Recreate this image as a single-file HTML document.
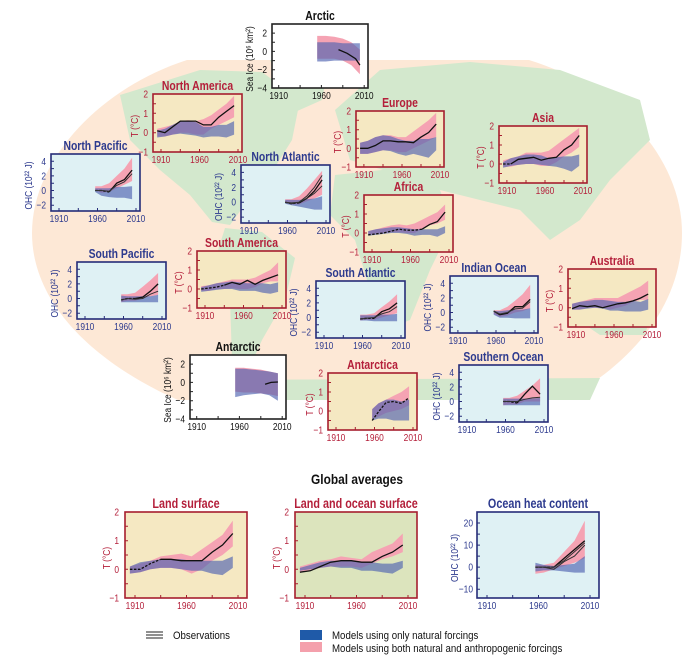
<!DOCTYPE html>
<html><head><meta charset="utf-8">
<style>
html,body{margin:0;padding:0;background:#fff;}
svg text{font-family:"Liberation Sans Narrow","Liberation Sans",sans-serif;}
</style></head>
<body>
<svg id="fig" xmlns="http://www.w3.org/2000/svg" width="688" height="662" viewBox="0 0 688 662">
  <g>
    <path d="M187,60 L529,60 C620,88 682,160 682,233 C682,310 625,368 564,400 L178,400 C105,368 32,310 32,233 C32,160 100,88 187,60 Z" fill="#fde8d6"/>
    <g fill="#d3e8cd">
      <path d="M120,95 L200,70 L262,72 L300,100 L292,140 L270,175 L248,200 L230,225 L212,222 L190,195 L160,170 L130,140 Z"/>
      <path d="M270,60 L330,58 L322,100 L295,112 Z"/>
      <path d="M225,228 L262,232 L295,258 L285,300 L262,340 L244,380 L232,360 L230,300 L215,260 Z"/>
      <path d="M335,110 L380,70 L470,62 L560,70 L640,100 L650,140 L610,180 L580,220 L550,240 L520,210 L480,200 L440,190 L400,175 L350,160 Z"/>
      <path d="M335,175 L400,168 L440,190 L452,225 L430,270 L410,320 L385,330 L370,290 L355,240 L330,215 Z"/>
      <path d="M575,285 L625,278 L655,300 L645,335 L600,335 L575,318 Z"/>
      <path d="M200,380 L600,378 L590,400 L210,400 Z"/>
    </g>
  </g>
  <g id="panels"></g>
  <text transform="translate(357,484) scale(0.85,1)" text-anchor="middle" font-size="14" font-weight="bold" fill="#111">Global averages</text>
  <g>
    <g>
      <line x1="146" y1="632" x2="163" y2="632" stroke="#222" stroke-width="1"/>
      <line x1="146" y1="635" x2="163" y2="635" stroke="#222" stroke-width="1"/>
      <line x1="146" y1="638" x2="163" y2="638" stroke="#222" stroke-width="1"/>
      <text transform="translate(173,639) scale(0.88,1)" font-size="11" fill="#111">Observations</text>
    </g>
    <g>
      <rect x="300" y="630" width="22" height="10" fill="#1f5aa8"/>
      <text transform="translate(332,639) scale(0.88,1)" font-size="11" fill="#111">Models using only natural forcings</text>
    </g>
    <g>
      <rect x="300" y="642" width="22" height="10" fill="#f4a0ac"/>
      <text transform="translate(332,652) scale(0.88,1)" font-size="11" fill="#111">Models using both natural and anthropogenic forcings</text>
    </g>
  </g>
</svg>
<script>
// ---------- data ----------
const decadeYears = [1905,1915,1925,1935,1945,1955,1965,1975,1985,1995,2005];
const ohcYears = [1957,1965,1975,1985,1995,2005];
const iceYears = [1955,1965,1975,1985,1995,2005];
const xTickLabels = ['1910','1960','2010'];
const tTicks = [2,1,0,-1];
const ohcTicks = [4,2,0,-2];
const iceTicks = [2,0,-2,-4];
const gOhcTicks = [20,10,0,-10];

// North America
const naObs = [0.1,0.0,0.3,0.6,0.6,0.6,0.4,0.4,0.8,1.1,1.4];
const naPinkHi = [0.2,0.3,0.4,0.6,0.65,0.6,0.7,0.9,1.2,1.5,1.9];
const naPinkLo = [-0.2,-0.2,-0.1,0.0,0.0,-0.1,-0.1,0.2,0.4,0.6,0.8];
const naBlueHi = [0.1,0.2,0.4,0.6,0.6,0.55,0.3,0.3,0.4,0.4,0.6];
const naBlueLo = [-0.25,-0.2,-0.1,-0.05,-0.1,-0.15,-0.25,-0.2,-0.2,-0.25,-0.1];
// Europe
const euObs = [0,0,0.15,0.4,0.4,0.35,0.35,0.3,0.6,0.85,1.3];
const euPinkHi = [0.3,0.4,0.6,0.7,0.7,0.6,0.6,0.9,1.2,1.5,1.9];
const euPinkLo = [-0.3,-0.3,-0.2,-0.1,-0.1,-0.2,-0.2,0,0.2,0.4,0.6];
const euBlueHi = [0.3,0.4,0.6,0.7,0.65,0.5,0.4,0.4,0.5,0.5,0.6];
const euBlueLo = [-0.3,-0.3,-0.2,-0.1,-0.15,-0.3,-0.4,-0.3,-0.4,-0.5,-0.1];
// Asia
const asObs = [0,0,0.25,0.3,0.35,0.2,0.3,0.35,0.75,1.0,1.5];
const asPinkHi = [0.2,0.3,0.4,0.6,0.6,0.6,0.7,1.0,1.3,1.6,1.9];
const asPinkLo = [-0.15,-0.15,-0.05,0,0,-0.1,-0.1,0.1,0.4,0.6,0.9];
const asBlueHi = [0.1,0.3,0.4,0.5,0.5,0.45,0.3,0.35,0.4,0.4,0.5];
const asBlueLo = [-0.2,-0.1,-0.05,0,0,-0.05,-0.1,-0.15,-0.25,-0.4,-0.1];
// Africa
const afObs = [-0.1,-0.05,0,0.1,0.2,0.15,0.15,0.2,0.45,0.6,1.1];
const afPinkHi = [0.1,0.2,0.3,0.4,0.45,0.4,0.5,0.7,0.9,1.1,1.5];
const afPinkLo = [-0.1,-0.05,0,0.05,0.05,0,0,0.2,0.4,0.5,0.7];
const afBlueHi = [0.1,0.2,0.25,0.3,0.3,0.25,0.2,0.2,0.2,0.2,0.35];
const afBlueLo = [-0.15,-0.1,-0.05,0,0,-0.05,-0.15,-0.1,-0.1,-0.2,0];
// South America
const samObs = [0,0.05,0.1,0.2,0.35,0.25,0.45,0.25,0.45,0.6,0.75];
const samPinkHi = [0.15,0.2,0.3,0.4,0.5,0.5,0.5,0.6,0.8,1.0,1.4];
const samPinkLo = [-0.1,-0.1,0,0,0.05,0,0,0.1,0.3,0.4,0.4];
const samBlueHi = [0.1,0.2,0.3,0.35,0.4,0.35,0.3,0.3,0.3,0.25,0.35];
const samBlueLo = [-0.15,-0.1,-0.05,0,0,-0.1,-0.1,-0.1,-0.2,-0.25,-0.15];
// Australia
const auObs = [-0.05,0.1,0.05,0.1,0,0.1,0.2,0.25,0.35,0.5,0.7];
const auPinkHi = [0.2,0.3,0.4,0.5,0.5,0.5,0.5,0.7,0.9,1.1,1.4];
const auPinkLo = [-0.1,-0.1,0,0,0,-0.1,0,0.1,0.3,0.4,0.4];
const auBlueHi = [0.2,0.3,0.35,0.4,0.4,0.35,0.3,0.3,0.35,0.3,0.45];
const auBlueLo = [-0.1,-0.1,-0.05,0,-0.05,-0.15,-0.15,-0.2,-0.2,-0.2,-0.1];
// Antarctica (temperature)
const antTObs = [-0.5,-0.05,0.45,0.5,0.4,0.7];
const antTPinkHi = [0.1,0.4,0.6,0.8,1.0,1.3];
const antTPinkLo = [-0.4,-0.3,-0.1,0,0.1,0.3];
const antTBlueHi = [0.1,0.4,0.6,0.6,0.5,0.6];
const antTBlueLo = [-0.5,-0.4,-0.4,-0.5,-0.5,-0.5];
// North Pacific OHC
const npObs = [0,0,-0.2,1.0,1.5,2.8];
const npObs2 = [0,0,-0.1,0.7,1.2,2.3];
const npPinkHi = [0.6,0.6,1.0,2.0,3.0,4.5];
const npPinkLo = [0,-0.3,-0.2,0.3,0.8,1.3];
const npBlueHi = [0.3,0.3,0.3,0.5,0.5,0.6];
const npBlueLo = [-0.2,-0.7,-0.9,-1.0,-1.0,-1.2];
// North Atlantic OHC
const natObs = [0,-0.2,-0.1,0.5,1.5,3.0];
const natObs2 = [0,-0.1,0,0.8,2.0,3.6];
const natObs3 = [0,-0.2,0,0.5,1.2,2.2];
const natPinkHi = [0.4,0.4,0.8,1.8,3.0,4.2];
const natPinkLo = [-0.1,-0.3,-0.3,0.1,0.5,1.0];
const natBlueHi = [0.3,0.3,0.3,0.4,0.5,0.8];
const natBlueLo = [-0.2,-0.4,-0.6,-0.8,-1.0,-1.0];
// South Pacific OHC
const spObs = [-0.2,0,0,0.2,1.0,2.0];
const spObs2 = [-0.2,0,-0.1,0,0.6,1.0];
const spPinkHi = [0.6,0.6,0.8,1.6,2.5,3.5];
const spPinkLo = [-0.5,-0.3,-0.3,0,0.3,0.5];
const spBlueHi = [0.4,0.3,0.3,0.3,0.3,0.5];
const spBlueLo = [-0.5,-0.5,-0.5,-0.5,-0.5,-0.5];
// South Atlantic OHC
const saObs = [-0.2,-0.1,-0.1,0.8,1.2,2.0];
const saObs2 = [-0.2,-0.1,0,0.5,0.8,1.5];
const saPinkHi = [0.4,0.4,0.6,1.4,2.2,3.2];
const saPinkLo = [-0.4,-0.3,-0.3,0,0.3,0.6];
const saBlueHi = [0.3,0.3,0.3,0.4,0.4,0.5];
const saBlueLo = [-0.4,-0.4,-0.5,-0.5,-0.5,-0.5];
// Indian Ocean OHC
const ioObs = [0.2,-0.3,-0.1,0.8,0.8,1.8];
const ioObs2 = [0.2,-0.2,0,0.5,0.6,1.5];
const ioPinkHi = [0.3,0.3,0.8,1.6,2.5,3.8];
const ioPinkLo = [-0.2,-0.6,-0.4,0,0.2,0.6];
const ioBlueHi = [0.2,0.2,0.3,0.4,0.4,0.6];
const ioBlueLo = [-0.3,-0.7,-0.7,-0.8,-0.8,-0.8];
// Southern Ocean OHC
const soObs = [0,0,-0.2,1.0,2.1,1.0];
const soObs2 = [0,0,0,0.3,0.5,0.6];
const soPinkHi = [0.5,0.5,0.8,1.5,2.2,3.2];
const soPinkLo = [-0.5,-0.4,-0.4,0,0,0];
const soBlueHi = [0.4,0.4,0.4,0.4,0.4,0.5];
const soBlueLo = [-0.5,-0.5,-0.5,-0.5,-0.5,-0.5];
// Arctic sea ice
const arcObsYears = [1980,1990,2000,2005];
const arcObs = [0.2,-0.2,-0.8,-1.5];
const arcPinkHi = [1.7,1.7,1.6,1.4,1.0,0.2];
const arcPinkLo = [-0.8,-0.8,-0.8,-1.0,-1.5,-2.5];
const arcBlueHi = [1.0,1.0,1.0,0.9,0.9,0.9];
const arcBlueLo = [-1.1,-1.1,-1.0,-1.0,-1.0,-1.0];
// Antarctic sea ice
const aicObsYears = [1990,1997,2005];
const aicObs = [-0.2,0,0.05];
const aicPinkHi = [1.6,1.6,1.5,1.4,1.2,1.0];
const aicPinkLo = [-1.0,-1.1,-1.1,-1.2,-1.3,-1.5];
const aicBlueHi = [1.5,1.5,1.4,1.3,1.2,1.0];
const aicBlueLo = [-1.6,-1.4,-1.3,-1.2,-1.4,-2.0];
// Global land
const glObs = [0,0,0.2,0.35,0.35,0.3,0.3,0.3,0.6,0.85,1.25];
const glPinkHi = [0.1,0.2,0.3,0.45,0.5,0.55,0.45,0.7,0.95,1.2,1.7];
const glPinkLo = [-0.15,-0.1,0,0.05,0.05,0,-0.15,0,0.3,0.5,0.8];
const glBlueHi = [0.1,0.25,0.3,0.35,0.35,0.35,0.3,0.3,0.3,0.3,0.45];
const glBlueLo = [-0.15,-0.1,0,0.05,0.05,0,-0.05,-0.05,-0.15,-0.2,0.05];
// Global land + ocean
const gloObs = [-0.1,-0.05,0.1,0.25,0.3,0.3,0.25,0.25,0.45,0.6,0.85];
const gloPinkHi = [0.1,0.2,0.3,0.35,0.45,0.4,0.35,0.6,0.75,0.9,1.25];
const gloPinkLo = [-0.1,-0.05,0.05,0.1,0.1,0.1,0.05,0.2,0.35,0.45,0.6];
const gloBlueHi = [0.05,0.15,0.25,0.3,0.3,0.3,0.25,0.25,0.2,0.2,0.3];
const gloBlueLo = [-0.05,0,0.05,0.1,0.05,0.05,-0.05,-0.05,-0.1,-0.15,0.05];
// Global OHC
const gohObs = [0,0,0,4,8,12];
const gohObs2 = [0,0,-1,2.5,5,10];
const gohObs3 = [0,0,0,3,7,11];
const gohPinkHi = [1,1,2,7,12,21];
const gohPinkLo = [-3,-2.5,-1,0.5,2,4];
const gohBlueHi = [2,1,0.5,1,1.5,5];
const gohBlueLo = [-2,-1.5,-1.5,-2,-2.5,-2.5];

// ---------- drawing ----------
const NS = 'http://www.w3.org/2000/svg';
const root = document.getElementById('panels');
function mk(tag, attrs, parent){
  const e = document.createElementNS(NS, tag);
  for (const k in attrs) e.setAttribute(k, attrs[k]);
  parent.appendChild(e);
  return e;
}
function txt(parent, x, y, str, attrs, rot){
  const a = Object.assign({}, attrs);
  a.transform = 'translate(' + x.toFixed(1) + ',' + y.toFixed(1) + ')' + (rot ? ' rotate(' + rot + ')' : '') + ' scale(0.8,1)';
  const t = mk('text', a, parent);
  t.textContent = str;
  return t;
}
const KINDS = {
  T:   {ymin:-1, ymax:2, ticks:tTicks, col:'#b41f3a', border:'#a61e2e', bg:'#f5e8c2', label:'T (°C)', fa:0.09, fb:0.955, tickOff:5, titleOff:15, minor:0.5},
  OHC: {ymin:-2.8, ymax:5, ticks:ohcTicks, col:'#2d3a8e', border:'#262c78', bg:'#dff1f4', label:'OHC (10²² J)', fa:0.09, fb:0.955, tickOff:5, titleOff:19, minor:1},
  ICE: {ymin:-4, ymax:3, ticks:iceTicks, col:'#111', border:'#222', bg:'#ffffff', label:'Sea Ice (10⁶ km²)', fa:0.07, fb:0.96, tickOff:5, titleOff:19, minor:1},
  GT:  {ymin:-1, ymax:2, ticks:tTicks, col:'#b41f3a', border:'#a61e2e', bg:'#f5e8c2', label:'T (°C)', fa:0.082, fb:0.926, tickOff:6, titleOff:15, minor:0.5},
  GOHC:{ymin:-14, ymax:25, ticks:gOhcTicks, col:'#2d3a8e', border:'#262c78', bg:'#dff1f4', label:'OHC (10²² J)', fa:0.082, fb:0.926, tickOff:4, titleOff:19, minor:5}
};
function fmt(v){ return v<0 ? '−'+(-v) : ''+v; }

function drawPanel(p){
  const k = KINDS[p.kind];
  const g = mk('g', {}, root);
  
  
  const xs = yr => p.x + k.fa*p.w + (yr-1910)/100*(k.fb-k.fa)*p.w;
  const ys = v => p.y + (k.ymax - v)/(k.ymax-k.ymin)*p.h;
  const bg = mk('rect', {x:p.x, y:p.y, width:p.w, height:p.h, fill:p.bg||k.bg}, g);
  
  
  function band(yrs, hi, lo, fill, op, nm){
    let d = '';
    yrs.forEach((yr,i)=>{ d += (i?'L':'M') + xs(yr).toFixed(1)+','+ys(hi[i]).toFixed(1); });
    for (let i=yrs.length-1;i>=0;i--) d += 'L'+xs(yrs[i]).toFixed(1)+','+ys(lo[i]).toFixed(1);
    const e = mk('path', {d:d+'Z', fill:fill, 'fill-opacity':op}, g);
    
    
  }
  band(p.years, p.pinkHi, p.pinkLo, '#f5a3b3', 1, p.name+'-anthropogenic-band');
  band(p.years, p.blueHi, p.blueLo, '#4f63b0', 0.65, p.name+'-natural-band');
  p.obs.forEach((o,oi)=>{
    const pts = o.years.map((yr,i)=>[xs(yr), ys(o.vals[i])]);
    const cut = o.dash || 0;
    if (cut>0){
      const d = pts.slice(0,cut+1).map((q,i)=>(i?'L':'M')+q[0].toFixed(1)+','+q[1].toFixed(1)).join('');
      const e = mk('path', {d:d, fill:'none', stroke:'#111', 'stroke-width':1.3, 'stroke-dasharray':'2.5,1.5'}, g);
      
      
    }
    const d2 = pts.slice(cut).map((q,i)=>(i?'L':'M')+q[0].toFixed(1)+','+q[1].toFixed(1)).join('');
    const e2 = mk('path', {d:d2, fill:'none', stroke:oi===0?'#111':'#333', 'stroke-width':oi===0?1.3:1}, g);
    
    
  });
  let td = '';
  for (let yr=1910; yr<=2010; yr+=25) td += 'M'+xs(yr).toFixed(1)+','+(p.y+p.h)+'v-3';
  for (let v=Math.ceil(k.ymin/k.minor)*k.minor; v<=k.ymax; v+=k.minor) td += 'M'+p.x+','+ys(v).toFixed(1)+'h3';
  const tk = mk('path', {d:td, stroke:k.border, 'stroke-width':1, fill:'none'}, g);
  
  
  const fr = mk('rect', {x:p.x, y:p.y, width:p.w, height:p.h, fill:'none', stroke:k.border, 'stroke-width':1.6}, g);
  
  
  k.ticks.forEach(v=>{
    const t = txt(g, p.x-k.tickOff, ys(v)+3.5, fmt(v), {'text-anchor':'end', 'font-size':10.5, fill:k.col});
    
    
  });
  [1910,1960,2010].forEach((yr,i)=>{
    const t = txt(g, xs(yr), p.y+p.h+11, xTickLabels[i], {'text-anchor':'middle', 'font-size':10.5, fill:k.col});
    
    
  });
  const cx = p.x - k.titleOff, cy = p.y + p.h/2 + 3;
  const yt = txt(g, cx, cy, k.label, {'text-anchor':'middle', 'font-size':10.5, fill:k.col}, -90);
  
  
  const tt = txt(g, p.x+p.w/2, p.y-4, p.title, {'text-anchor':'middle', 'font-size':p.big?13.5:13, 'font-weight':'bold', fill:p.kind==='ICE'?'#111':k.col});
  
  
}

const panels = [
  {name:'arctic', title:'Arctic', kind:'ICE', x:272, y:24, w:96, h:64, years:iceYears, pinkHi:arcPinkHi, pinkLo:arcPinkLo, blueHi:arcBlueHi, blueLo:arcBlueLo, obs:[{years:arcObsYears, vals:arcObs}]},
  {name:'north-america', title:'North America', kind:'T', x:153, y:94, w:89, h:58, years:decadeYears, pinkHi:naPinkHi, pinkLo:naPinkLo, blueHi:naBlueHi, blueLo:naBlueLo, obs:[{years:decadeYears, vals:naObs}]},
  {name:'europe', title:'Europe', kind:'T', x:356, y:111, w:88, h:56, years:decadeYears, pinkHi:euPinkHi, pinkLo:euPinkLo, blueHi:euBlueHi, blueLo:euBlueLo, obs:[{years:decadeYears, vals:euObs}]},
  {name:'asia', title:'Asia', kind:'T', x:499, y:126, w:88, h:57, years:decadeYears, pinkHi:asPinkHi, pinkLo:asPinkLo, blueHi:asBlueHi, blueLo:asBlueLo, obs:[{years:decadeYears, vals:asObs, dash:1}]},
  {name:'north-pacific', title:'North Pacific', kind:'OHC', x:51, y:154, w:89, h:57, years:ohcYears, pinkHi:npPinkHi, pinkLo:npPinkLo, blueHi:npBlueHi, blueLo:npBlueLo, obs:[{years:ohcYears, vals:npObs, dash:2},{years:ohcYears, vals:npObs2}]},
  {name:'north-atlantic', title:'North Atlantic', kind:'OHC', x:241, y:165, w:89, h:58, years:ohcYears, pinkHi:natPinkHi, pinkLo:natPinkLo, blueHi:natBlueHi, blueLo:natBlueLo, obs:[{years:ohcYears, vals:natObs, dash:2},{years:ohcYears, vals:natObs2},{years:ohcYears, vals:natObs3}]},
  {name:'africa', title:'Africa', kind:'T', x:364, y:195, w:89, h:57, years:decadeYears, pinkHi:afPinkHi, pinkLo:afPinkLo, blueHi:afBlueHi, blueLo:afBlueLo, obs:[{years:decadeYears, vals:afObs, dash:7}]},
  {name:'south-pacific', title:'South Pacific', kind:'OHC', x:77, y:262, w:89, h:57, years:ohcYears, pinkHi:spPinkHi, pinkLo:spPinkLo, blueHi:spBlueHi, blueLo:spBlueLo, obs:[{years:ohcYears, vals:spObs, dash:2},{years:ohcYears, vals:spObs2}]},
  {name:'south-america', title:'South America', kind:'T', x:197, y:251, w:89, h:57, years:decadeYears, pinkHi:samPinkHi, pinkLo:samPinkLo, blueHi:samBlueHi, blueLo:samBlueLo, obs:[{years:decadeYears, vals:samObs, dash:3}]},
  {name:'south-atlantic', title:'South Atlantic', kind:'OHC', x:316, y:281, w:89, h:57, years:ohcYears, pinkHi:saPinkHi, pinkLo:saPinkLo, blueHi:saBlueHi, blueLo:saBlueLo, obs:[{years:ohcYears, vals:saObs, dash:2},{years:ohcYears, vals:saObs2}]},
  {name:'indian-ocean', title:'Indian Ocean', kind:'OHC', x:450, y:276, w:88, h:57, years:ohcYears, pinkHi:ioPinkHi, pinkLo:ioPinkLo, blueHi:ioBlueHi, blueLo:ioBlueLo, obs:[{years:ohcYears, vals:ioObs},{years:ohcYears, vals:ioObs2}]},
  {name:'australia', title:'Australia', kind:'T', x:568, y:269, w:88, h:58, years:decadeYears, pinkHi:auPinkHi, pinkLo:auPinkLo, blueHi:auBlueHi, blueLo:auBlueLo, obs:[{years:decadeYears, vals:auObs}]},
  {name:'antarctic', title:'Antarctic', kind:'ICE', x:190, y:355, w:96, h:64, years:iceYears, pinkHi:aicPinkHi, pinkLo:aicPinkLo, blueHi:aicBlueHi, blueLo:aicBlueLo, obs:[{years:aicObsYears, vals:aicObs}]},
  {name:'antarctica', title:'Antarctica', kind:'T', x:328, y:373, w:89, h:57, years:ohcYears, pinkHi:antTPinkHi, pinkLo:antTPinkLo, blueHi:antTBlueHi, blueLo:antTBlueLo, obs:[{years:ohcYears, vals:antTObs, dash:5}]},
  {name:'southern-ocean', title:'Southern Ocean', kind:'OHC', x:459, y:365, w:89, h:57, years:ohcYears, pinkHi:soPinkHi, pinkLo:soPinkLo, blueHi:soBlueHi, blueLo:soBlueLo, obs:[{years:ohcYears, vals:soObs, dash:2},{years:ohcYears, vals:soObs2}]},
  {name:'global-land', title:'Land surface', kind:'GT', big:true, x:125, y:512, w:122, h:86, years:decadeYears, pinkHi:glPinkHi, pinkLo:glPinkLo, blueHi:glBlueHi, blueLo:glBlueLo, obs:[{years:decadeYears, vals:glObs, dash:3}]},
  {name:'global-land-ocean', title:'Land and ocean surface', kind:'GT', big:true, bg:'#dce4bd', x:295, y:512, w:122, h:86, years:decadeYears, pinkHi:gloPinkHi, pinkLo:gloPinkLo, blueHi:gloBlueHi, blueLo:gloBlueLo, obs:[{years:decadeYears, vals:gloObs}]},
  {name:'global-ohc', title:'Ocean heat content', kind:'GOHC', big:true, x:477, y:512, w:122, h:86, years:ohcYears, pinkHi:gohPinkHi, pinkLo:gohPinkLo, blueHi:gohBlueHi, blueLo:gohBlueLo, obs:[{years:ohcYears, vals:gohObs, dash:2},{years:ohcYears, vals:gohObs2},{years:ohcYears, vals:gohObs3}]}
];
panels.forEach(drawPanel);
</script>
</body></html>
